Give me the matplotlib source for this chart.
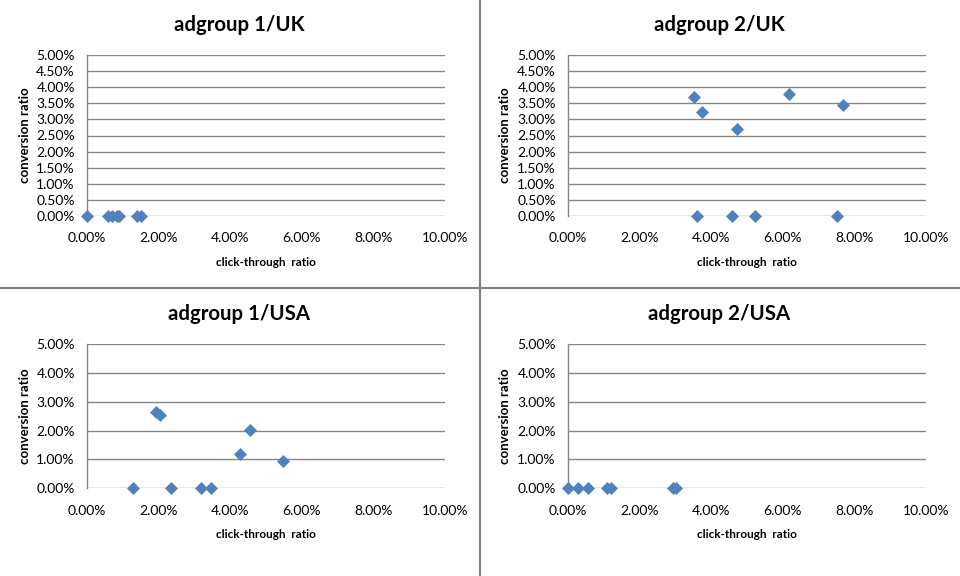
import matplotlib
matplotlib.use("Agg")
import matplotlib.pyplot as plt
from matplotlib.ticker import FuncFormatter, MultipleLocator
from matplotlib.lines import Line2D

plt.rcParams['font.family'] = ['Lato', 'DejaVu Sans']

titles = ["adgroup 1/UK", "adgroup 2/UK", "adgroup 1/USA", "adgroup 2/USA"]

uk1_ctr = [0.00, 0.58, 0.70, 0.82, 0.90, 1.38, 1.50]
uk1_conv = [0.00, 0.00, 0.00, 0.00, 0.00, 0.00, 0.00]

uk2_ctr = [3.53, 3.75, 4.73, 6.17, 7.69, 3.60, 4.57, 5.21, 7.52]
uk2_conv = [3.71, 3.24, 2.71, 3.79, 3.46, 0.00, 0.00, 0.00, 0.00]

usa1_ctr = [1.28, 1.92, 2.03, 2.35, 3.19, 3.45, 4.28, 4.55, 5.47]
usa1_conv = [0.00, 2.65, 2.53, 0.00, 0.00, 0.00, 1.19, 2.01, 0.94]

usa2_ctr = [0.00, 0.28, 0.54, 1.07, 1.19, 2.94, 3.00]
usa2_conv = [0.00, 0.00, 0.00, 0.00, 0.00, 0.00, 0.00]

x_label = "click-through  ratio"
y_label = "conversion ratio"

W, H = 960, 576
fig = plt.figure(figsize=(W / 100, H / 100), dpi=100)

# panel axes in pixels: (left, top, right, bottom)
panels = [
    (titles[0], uk1_ctr, uk1_conv, (87.3, 55.3, 444.7, 215.7), 0.5, 0),
    (titles[1], uk2_ctr, uk2_conv, (568.3, 55.3, 925.7, 215.7), 0.5, 480),
    (titles[2], usa1_ctr, usa1_conv, (87.3, 344.3, 444.7, 488.0), 1.0, 0),
    (titles[3], usa2_ctr, usa2_conv, (568.3, 344.3, 925.7, 488.0), 1.0, 480),
]

grid_col = "#868686"
marker_col = "#4F81BD"
pct = FuncFormatter(lambda v, p: f"{v:.2f}%")

for title, xs, ys, (l, t, r, b), ystep, x0 in panels:
    ax = fig.add_axes([l / W, 1 - b / H, (r - l) / W, (b - t) / H])
    ax.set_xlim(0, 10)
    ax.set_ylim(0, 5)
    ax.xaxis.set_major_locator(MultipleLocator(2))
    ax.yaxis.set_major_locator(MultipleLocator(ystep))
    ax.xaxis.set_major_formatter(pct)
    ax.yaxis.set_major_formatter(pct)
    ax.grid(axis='y', color=grid_col, linewidth=1.0)
    ax.set_axisbelow(True)
    for s in ['top', 'right', 'bottom']:
        ax.spines[s].set_visible(False)
    ax.spines['left'].set_color(grid_col)
    ax.spines['left'].set_linewidth(1.0)
    ax.tick_params(axis='both', length=0, labelsize=10, colors='black')
    ax.tick_params(axis='x', pad=12)
    ax.tick_params(axis='y', pad=9)
    ax.scatter(xs, ys, marker='D', s=44, color=marker_col, zorder=3,
               clip_on=False, linewidths=0)
    cy = t - 30
    fig.text((x0 + 239) / W, 1 - cy / H, title, ha='center', va='center',
             fontsize=14.7, fontweight='bold')
    fig.text((l + r) / 2 / W, 1 - (b + 47) / H, x_label, ha='center', va='center',
             fontsize=8.5, fontweight='bold')
    fig.text((x0 + 25) / W, 1 - ((t + b) / 2) / H, y_label, ha='center', va='center',
             rotation=90, fontsize=9.5, fontweight='bold')

# divider lines
fig.add_artist(Line2D([480 / W, 480 / W], [0, 1], color="#808080", linewidth=1.5,
                      transform=fig.transFigure))
fig.add_artist(Line2D([0, 1], [1 - 288 / H, 1 - 288 / H], color="#808080", linewidth=1.5,
                      transform=fig.transFigure))

fig.savefig("out.png", dpi=100, facecolor="white")
